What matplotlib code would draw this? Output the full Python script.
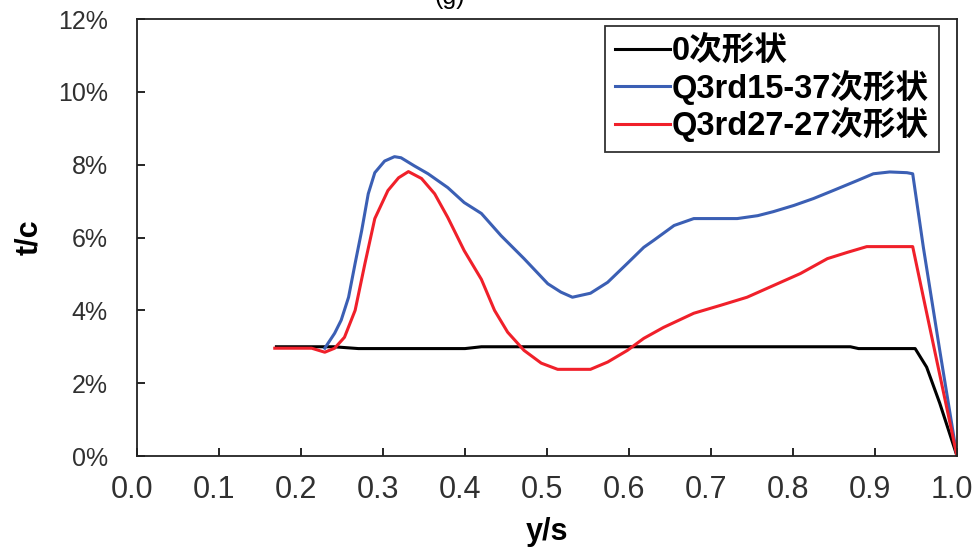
import numpy as np
import matplotlib
matplotlib.use("Agg")
import matplotlib.pyplot as plt
import matplotlib.transforms as mtransforms
from matplotlib.ticker import FuncFormatter

plt.rcParams['font.family'] = ['Liberation Sans', 'Noto Sans CJK SC', 'DejaVu Sans']

# series (y/s, t/c in %)
black_x = [0.17, 0.20, 0.24, 0.27, 0.30, 0.35, 0.40, 0.42, 0.45, 0.50, 0.60,
           0.70, 0.80, 0.87, 0.88, 0.90, 0.949, 0.963, 0.979, 1.0]
black_y = [3.0, 3.0, 3.0, 2.95, 2.95, 2.95, 2.95, 3.0, 3.0, 3.0, 3.0,
           3.0, 3.0, 3.0, 2.95, 2.95, 2.95, 2.44, 1.45, 0.0]

blue_x = [0.229, 0.241, 0.249, 0.258, 0.266, 0.274, 0.282, 0.290, 0.302, 0.314,
          0.322, 0.338, 0.355, 0.379, 0.399, 0.420, 0.444, 0.472, 0.501, 0.517,
          0.531, 0.553, 0.574, 0.598, 0.618, 0.630, 0.655, 0.679, 0.703, 0.732,
          0.757, 0.776, 0.801, 0.825, 0.849, 0.878, 0.898, 0.918, 0.939, 0.946,
          0.959, 0.979, 1.0]
blue_y = [2.96, 3.37, 3.73, 4.36, 5.29, 6.19, 7.2, 7.78, 8.1, 8.22,
          8.19, 7.97, 7.75, 7.37, 6.96, 6.66, 6.05, 5.42, 4.73, 4.5,
          4.36, 4.47, 4.77, 5.29, 5.73, 5.92, 6.33, 6.52, 6.52, 6.52,
          6.6, 6.71, 6.88, 7.07, 7.29, 7.56, 7.75, 7.8, 7.78, 7.75,
          5.73, 2.9, 0.0]

red_x = [0.168, 0.213, 0.229, 0.241, 0.253, 0.266, 0.278, 0.290, 0.306, 0.319,
         0.331, 0.347, 0.363, 0.379, 0.399, 0.420, 0.436, 0.452, 0.472, 0.493,
         0.513, 0.553, 0.574, 0.598, 0.618, 0.642, 0.679, 0.712, 0.744, 0.776,
         0.809, 0.842, 0.866, 0.890, 0.939, 0.946, 0.959, 1.0]
red_y = [2.96, 2.96, 2.85, 2.96, 3.26, 4.0, 5.29, 6.52, 7.29, 7.64,
         7.81, 7.62, 7.2, 6.55, 5.64, 4.85, 4.0, 3.4, 2.9, 2.55,
         2.38, 2.38, 2.58, 2.9, 3.23, 3.53, 3.92, 4.14, 4.36, 4.68,
         5.01, 5.42, 5.59, 5.75, 5.75, 5.75, 4.36, 0.0]

labels = ['0次形状', 'Q3rd15-37次形状', 'Q3rd27-27次形状']
xticks = [0.0, 0.1, 0.2, 0.3, 0.4, 0.5, 0.6, 0.7, 0.8, 0.9, 1.0]
yticks = [0, 2, 4, 6, 8, 10, 12]

fig = plt.figure(figsize=(9.78, 5.51), dpi=100)
ax = fig.add_axes([0.1401, 0.1724, 0.8384, 0.7931])

ax.plot(black_x, black_y, color='black', lw=2.2, label=labels[0])
ax.plot(blue_x, blue_y, color='#3b5fb4', lw=2.2, label=labels[1])
ax.plot(red_x, red_y, color='#f0202a', lw=2.2, label=labels[2])

ax.set_xlim(0, 1.0)
ax.set_ylim(0, 12)
ax.set_xticks(xticks)
ax.set_yticks(yticks)
ax.yaxis.set_major_formatter(FuncFormatter(lambda v, p: '%d%%' % v))
ax.xaxis.set_major_formatter(FuncFormatter(lambda v, p: '%.1f' % v))
ax.tick_params(direction='in', length=6, width=1.2, colors='black')
ax.tick_params(axis='y', labelsize=18, pad=21, labelcolor='#303030')
ax.tick_params(axis='x', labelsize=22, pad=14, labelcolor='#303030')
# x tick labels sit a little left of their ticks in the original
shift = mtransforms.ScaledTranslation(-5 / 100, 0, fig.dpi_scale_trans)
for lab in ax.get_xticklabels():
    lab.set_transform(lab.get_transform() + shift)
for sp in ax.spines.values():
    sp.set_linewidth(1.3)
    sp.set_color('#222222')

ax.set_xlabel('y/s', fontsize=22, fontweight='bold', labelpad=8)
ax.set_ylabel('t/c', fontsize=22, fontweight='bold', labelpad=10)

leg = ax.legend(loc='upper right', bbox_to_anchor=(0.9778, 0.984), fontsize=23.5,
                frameon=True, fancybox=False, edgecolor='black',
                handlelength=1.7, handletextpad=0.05, borderpad=0.3,
                labelspacing=0.08, borderaxespad=0)
leg.get_frame().set_linewidth(1.3)
for t in leg.get_texts():
    t.set_fontweight('bold')

# clipped title at top edge of the picture
fig.text(0.46, 1.005, '(g)', fontsize=18, ha='center', va='center')

fig.savefig('out.png', dpi=100)
